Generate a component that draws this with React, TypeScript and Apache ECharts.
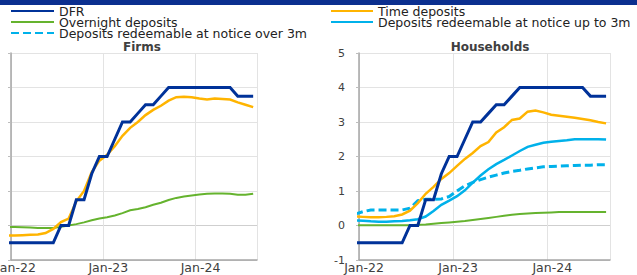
import React, { useEffect, useRef } from "react";
import * as echarts from "echarts";

// Months: Dec-21 .. Aug-24 (points plotted at mid-month)
const months = [
  "Dec-21",
  "Jan-22", "Feb-22", "Mar-22", "Apr-22", "May-22", "Jun-22", "Jul-22", "Aug-22", "Sep-22", "Oct-22", "Nov-22", "Dec-22",
  "Jan-23", "Feb-23", "Mar-23", "Apr-23", "May-23", "Jun-23", "Jul-23", "Aug-23", "Sep-23", "Oct-23", "Nov-23", "Dec-23",
  "Jan-24", "Feb-24", "Mar-24", "Apr-24", "May-24", "Jun-24", "Jul-24", "Aug-24",
];
const xTickLabels = ["Jan-22", "Jan-23", "Jan-24"];
const yTicks = [-1, 0, 1, 2, 3, 4, 5];

const dfr = [
  -0.5,
  -0.5, -0.5, -0.5, -0.5, -0.5, -0.5, 0, 0, 0.75, 0.75, 1.5, 2.0,
  2.0, 2.5, 3.0, 3.0, 3.25, 3.5, 3.5, 3.75, 4.0, 4.0, 4.0, 4.0,
  4.0, 4.0, 4.0, 4.0, 4.0, 3.75, 3.75, 3.75,
];

// Firms
const firmsTime = [
  -0.29,
  -0.29, -0.28, -0.27, -0.26, -0.22, -0.1, 0.1, 0.2, 0.7, 1.0, 1.55, 1.88,
  2.05, 2.3, 2.6, 2.83, 3.0, 3.2, 3.35, 3.47, 3.62, 3.72, 3.73, 3.72,
  3.68, 3.65, 3.68, 3.67, 3.65, 3.57, 3.5, 3.43,
];
const firmsOvernight = [
  -0.04,
  -0.04, -0.05, -0.06, -0.07, -0.07, -0.07, -0.04, 0.0, 0.04, 0.09, 0.15, 0.2,
  0.24, 0.29, 0.36, 0.44, 0.48, 0.53, 0.6, 0.66, 0.74, 0.8, 0.84, 0.87,
  0.9, 0.92, 0.93, 0.93, 0.92, 0.89, 0.89, 0.92,
];

// Households
const hhTime = [
  0.26,
  0.25, 0.24, 0.24, 0.25, 0.27, 0.32, 0.43, 0.65, 0.92, 1.12, 1.35, 1.52,
  1.73, 1.93, 2.1, 2.3, 2.42, 2.7, 2.85, 3.06, 3.1, 3.3, 3.33, 3.28,
  3.21, 3.18, 3.15, 3.12, 3.09, 3.05, 3.0, 2.96,
];
const hhOvernight = [
  0.01,
  0.01, 0.01, 0.01, 0.01, 0.01, 0.01, 0.01, 0.02, 0.03, 0.05, 0.07, 0.09,
  0.11, 0.13, 0.16, 0.19, 0.22, 0.25, 0.28, 0.31, 0.33, 0.35, 0.36, 0.37,
  0.38, 0.39, 0.39, 0.39, 0.39, 0.39, 0.39, 0.39,
];
const hhUpTo3m = [
  0.15,
  0.14, 0.12, 0.11, 0.11, 0.12, 0.13, 0.15, 0.18, 0.26, 0.42, 0.6, 0.72,
  0.85, 1.02, 1.24, 1.45, 1.63, 1.78, 1.9, 2.03, 2.16, 2.28, 2.34, 2.4,
  2.43, 2.45, 2.47, 2.5, 2.5, 2.5, 2.5, 2.49,
];
const hhOver3m = [
  0.33,
  0.4, 0.45, 0.45, 0.45, 0.45, 0.45, 0.5, 0.72, 0.76, 0.76, 0.77, 0.84,
  1.0, 1.15, 1.25, 1.33, 1.4, 1.46, 1.52, 1.57, 1.6, 1.64, 1.67, 1.7,
  1.71, 1.72, 1.73, 1.74, 1.75, 1.75, 1.76, 1.76,
];

const legendLeftCol = ["DFR", "Overnight deposits", "Deposits redeemable at notice over 3m"];
const legendRightCol = ["Time deposits", "Deposits redeemable at notice up to 3m"];

const C_DFR = "#003299";
const C_TIME = "#ffb400";
const C_ON = "#65b32e";
const C_BLUE = "#00b1ea";

const FONT = "DejaVu Sans";

function pts(values: number[]) {
  // x position = month index from Jan-22, at mid-month
  return values.map((v, i) => [i - 0.5, v]);
}

export default function App() {
  const ref = useRef<HTMLDivElement>(null);

  useEffect(() => {
    if (!ref.current) return;
    const chart = echarts.init(ref.current, null, { renderer: "svg" });

    const xAxisBase = (gridIndex: number) => ({
      type: "value",
      gridIndex,
      min: 0,
      max: 32,
      interval: 12,
      axisLine: { show: true, onZero: false, lineStyle: { color: "#a6a6a6", width: 1.5 } },
      axisTick: { show: false },
      axisLabel: {
        fontFamily: FONT,
        fontSize: 12.5,
        lineHeight: 12,
        color: "#404040",
        margin: 1.5,
        padding: [0, 0, 0, 10],
        showMaxLabel: false,
        hideOverlap: false,
        formatter: (v: number) =>
          v % 12 === 0 && v / 12 < xTickLabels.length ? xTickLabels[v / 12] : "",
      },
      splitLine: { show: true, lineStyle: { color: "#e3e3e3", width: 1 } },
    });

    const yAxisBase = (gridIndex: number, showLabels: boolean) => ({
      type: "value",
      gridIndex,
      min: yTicks[0],
      max: yTicks[yTicks.length - 1],
      interval: 1,
      axisLine: { show: true, lineStyle: { color: "#a6a6a6", width: 1.5 } },
      axisTick: { show: true, length: 3, lineStyle: { color: "#bdbdbd" } },
      axisLabel: { show: showLabels, fontFamily: FONT, fontSize: 11, color: "#404040", margin: 14 },
      splitLine: {
        show: true,
        lineStyle: {
          color: ["#d0d0d0", "#cfcfcf", "#e3e3e3", "#e3e3e3", "#e3e3e3", "#e3e3e3", "#e3e3e3"],
          width: 1,
        },
      },
    });

    const line = (
      name: string,
      values: number[],
      color: string,
      width: number,
      idx: number,
      z: number,
      dashed = false
    ) => ({
      name,
      type: "line",
      xAxisIndex: idx,
      yAxisIndex: idx,
      data: pts(values),
      symbol: "none",
      showSymbol: false,
      clip: true,
      z,
      lineStyle: {
        color,
        width,
        type: dashed ? [8, 4] : "solid",
        cap: "butt",
        join: "miter",
      },
      itemStyle: { color },
    });

    const legendRow = (name: string, left: number, centerY: number, itemWidth: number) => ({
      orient: "horizontal",
      left,
      top: centerY - 6,
      padding: 0,
      itemGap: 0,
      itemWidth,
      itemHeight: 12,
      selectedMode: false,
      itemStyle: { opacity: 0, borderWidth: 0 },
      textStyle: { fontFamily: FONT, fontSize: 12.5, color: "#222", lineHeight: 12 },
      data: [name],
    });

    const rowY = [10.5, 21.5, 32.5];

    const option = {
      animation: false,
      backgroundColor: "#ffffff",
      legend: [
        ...legendLeftCol.map((n, i) => legendRow(n, 10, rowY[i], 43)),
        ...legendRightCol.map((n, i) => legendRow(n, 330, rowY[i], 42)),
      ],
      graphic: [
        { type: "rect", shape: { x: 0, y: 0, width: 637, height: 5 }, style: { fill: "#0b2f8f" }, silent: true },
        {
          type: "text",
          x: 142,
          y: 46.5,
          style: {
            text: "Firms",
            fontFamily: FONT,
            fontSize: 12,
            fontWeight: "bold",
            fill: "#404040",
            align: "center",
            verticalAlign: "middle",
          },
        },
        {
          type: "text",
          x: 490,
          y: 46.5,
          style: {
            text: "Households",
            fontFamily: FONT,
            fontSize: 12,
            fontWeight: "bold",
            fill: "#404040",
            align: "center",
            verticalAlign: "middle",
          },
        },
      ],
      grid: [
        { left: 11, right: 380, top: 53, bottom: 15, containLabel: false, outerBoundsMode: "none" },
        { left: 359, right: 27, top: 53, bottom: 15, containLabel: false, outerBoundsMode: "none" },
      ],
      xAxis: [xAxisBase(0), xAxisBase(1)],
      yAxis: [yAxisBase(0, false), yAxisBase(1, true)],
      series: [
        line("Overnight deposits", firmsOvernight, C_ON, 2, 0, 2),
        line("Time deposits", firmsTime, C_TIME, 2.5, 0, 3),
        line("DFR", dfr, C_DFR, 3, 0, 4),
        line("Overnight deposits", hhOvernight, C_ON, 2, 1, 2),
        line("Deposits redeemable at notice up to 3m", hhUpTo3m, C_BLUE, 2.5, 1, 3),
        line("Deposits redeemable at notice over 3m", hhOver3m, C_BLUE, 3, 1, 3, true),
        line("Time deposits", hhTime, C_TIME, 2.5, 1, 3),
        line("DFR", dfr, C_DFR, 3, 1, 4),
      ],
    };

    chart.setOption(option as any);
    return () => chart.dispose();
  }, []);

  return (
    <div
      ref={ref}
      style={{ position: "absolute", left: 0, top: 0, width: 637, height: 275 }}
    />
  );
}
